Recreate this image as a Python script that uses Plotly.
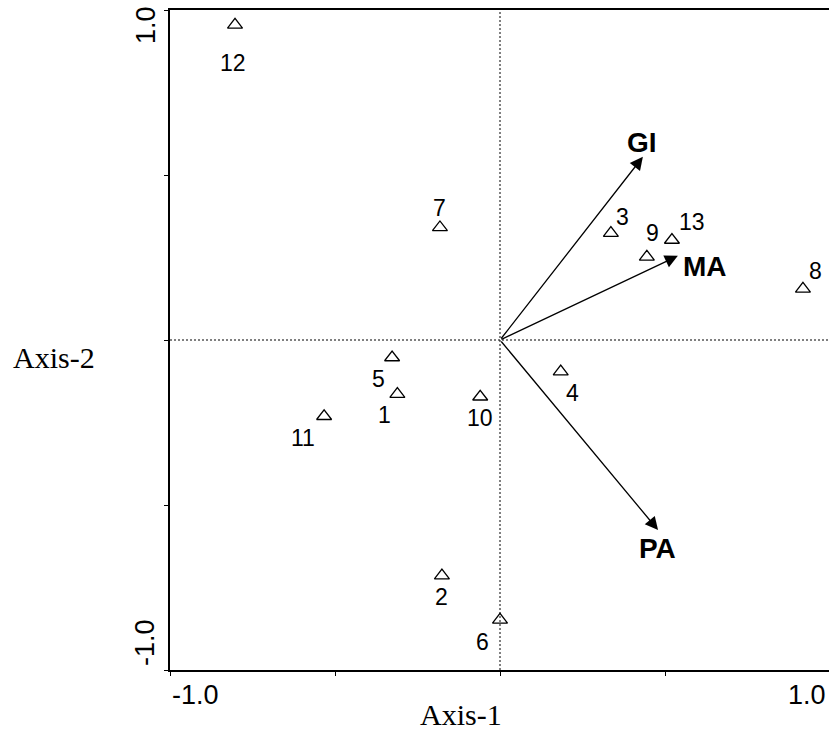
import plotly.graph_objects as go

# ---- data ----
site_labels = ["1", "2", "3", "4", "5", "6", "7", "8", "9", "10", "11", "12", "13"]
site_x = [-0.311, -0.176, 0.336, 0.184, -0.327, 0.000, -0.182, 0.918, 0.445, -0.060, -0.533, -0.803, 0.521]
site_y = [-0.164, -0.714, 0.324, -0.096, -0.053, -0.848, 0.341, 0.155, 0.252, -0.172, -0.231, 0.955, 0.303]

var_labels = ["GI", "MA", "PA"]
var_x = [0.433, 0.539, 0.479]
var_y = [0.555, 0.255, -0.576]

axis_ticks = [-1.0, -0.5, 0.0, 0.5, 1.0]

# ---- label offsets (pixels: dx right, dy down) ----
site_offsets = {
    "1": (-13, 21), "2": (0, 21), "3": (12, -16), "4": (12, 21), "5": (-14, 22),
    "6": (-18, 22), "7": (0, -19), "8": (13, -18), "9": (6, -24), "10": (0, 21),
    "11": (-21, 22), "12": (-2, 38), "13": (20, -18),
}
var_offsets = {"GI": (-1, -14), "MA": (27, 11), "PA": (-1, 18)}

SANS = "Liberation Sans, Arial, sans-serif"
SERIF = "Liberation Serif, Times New Roman, serif"

fig = go.Figure()

fig.add_trace(go.Scatter(
    x=site_x, y=site_y, mode="markers",
    marker=dict(symbol="triangle-up-open", size=13, color="black", line=dict(width=1.3)),
    hoverinfo="skip", showlegend=False,
))

ann = []
for lab, x, y in zip(site_labels, site_x, site_y):
    dx, dy = site_offsets[lab]
    ann.append(dict(x=x, y=y, xref="x", yref="y", text=lab, showarrow=False,
                    xshift=dx, yshift=-dy, font=dict(family=SANS, size=23, color="black")))

for lab, x, y in zip(var_labels, var_x, var_y):
    ann.append(dict(x=x, y=y, xref="x", yref="y", ax=0, ay=0, axref="x", ayref="y",
                    text="", showarrow=True, arrowhead=2, arrowsize=2.0, arrowwidth=1.3,
                    arrowcolor="black", standoff=0))
    dx, dy = var_offsets[lab]
    ann.append(dict(x=x, y=y, xref="x", yref="y", text="<b>%s</b>" % lab, showarrow=False,
                    xshift=dx, yshift=-dy, font=dict(family=SANS, size=28, color="black")))

# tick labels
tick_font = dict(family=SANS, size=27, color="black")
ann.append(dict(x=axis_ticks[0], y=0, xref="x", yref="paper", text="-1.0", showarrow=False,
                xanchor="left", yanchor="middle", yshift=-25, font=tick_font))
ann.append(dict(x=1, y=0, xref="paper", yref="paper", text="1.0", showarrow=False,
                xanchor="right", yanchor="middle", yshift=-25, xshift=-1, font=tick_font))
ann.append(dict(x=0, y=axis_ticks[0], xref="paper", yref="y", text="-1.0", showarrow=False,
                textangle=-90, xanchor="center", yanchor="middle", xshift=-25, yshift=27,
                font=tick_font))
ann.append(dict(x=0, y=axis_ticks[-1], xref="paper", yref="y", text="1.0", showarrow=False,
                textangle=-90, xanchor="center", yanchor="middle", xshift=-24, yshift=-15,
                font=tick_font))

# axis titles
title_font = dict(family=SERIF, size=30, color="black")
ann.append(dict(x=0.4416, y=0, xref="paper", yref="paper", text="Axis-1", showarrow=False,
                xanchor="center", yanchor="middle", yshift=-44, borderpad=0, font=title_font))
ann.append(dict(x=0, y=0, xref="paper", yref="y", text="Axis-2", showarrow=False,
                xanchor="center", yanchor="middle", xshift=-116, yshift=-17, font=title_font))

shapes = [
    dict(type="line", xref="x", yref="paper", x0=0, x1=0, y0=0, y1=1,
         line=dict(color="black", width=1, dash="2px,2px")),
    dict(type="line", xref="paper", yref="y", x0=0, x1=1, y0=0, y1=0,
         line=dict(color="black", width=1, dash="2px,2px")),
]

fig.update_layout(
    width=829, height=731,
    margin=dict(l=170, r=0, t=10, b=61),
    paper_bgcolor="white", plot_bgcolor="white",
    annotations=ann, shapes=shapes, showlegend=False,
)
fig.update_xaxes(range=[-1, 1 - 1 / 330], tickvals=axis_ticks, showticklabels=False,
                 ticks="outside", ticklen=4, tickcolor="black", showgrid=False, zeroline=False,
                 showline=True, linecolor="black", linewidth=1.5, mirror=True)
fig.update_yaxes(range=[-1, 1], tickvals=axis_ticks, showticklabels=False,
                 ticks="outside", ticklen=4, tickcolor="black", showgrid=False, zeroline=False,
                 showline=True, linecolor="black", linewidth=1.5)

# remove the default page margin / scrollbars so the figure fills the window exactly
fig.write_html("out.html",
               config={"displayModeBar": False},
               post_script="document.body.style.margin='0';document.body.style.overflow='hidden';")
